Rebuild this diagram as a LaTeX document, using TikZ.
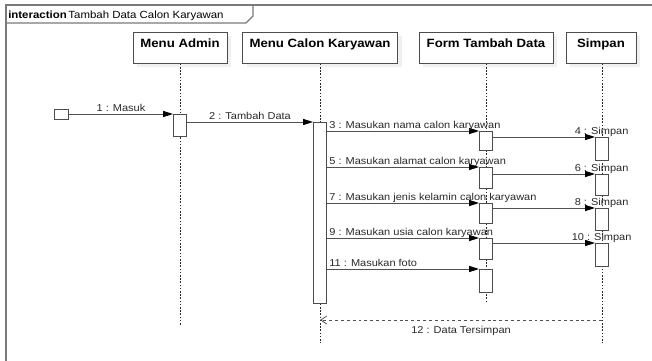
\documentclass[tikz,border=0pt]{standalone}
\usepackage{fontspec}
\setmainfont{Liberation Sans}[FakeStretch=1.1]
\usetikzlibrary{arrows.meta,shadows}
\newdimen\pxu \pxu=0.75pt
\definecolor{linegrey}{HTML}{505050}
\definecolor{labelgrey}{HTML}{2A2A2A}
\definecolor{framegrey}{HTML}{7A7A7A}
\tikzset{
  frameline/.style={draw=framegrey, line width=0.9pt},
  titletext/.style={font=\fontsize{7.8}{9}\selectfont, inner sep=0pt, text=black},
  lifehead/.style={draw=black!70, fill=white, line width=0.6pt,
    font=\fontsize{9}{10}\selectfont\bfseries, anchor=north,
    inner ysep=5.25pt, inner xsep=0pt, text height=6.3pt, text depth=6.45pt,
    general shadow={fill=black!6, shadow xshift=3pt, shadow yshift=-3pt}},
  lifeline/.style={draw=black!85, line width=0.6pt, dash pattern=on 1.2pt off 1.2pt},
  actbox/.style={draw=black!70, fill=white, line width=0.6pt, minimum width=13\pxu,
    inner sep=0pt, anchor=north},
  startbox/.style={draw=black!70, fill=white, line width=0.6pt, minimum width=14\pxu,
    minimum height=10\pxu, inner sep=0pt},
  msg/.style={draw=linegrey, line width=0.75pt,
    -{Triangle[length=7.5pt,width=4.5pt,fill=black,color=black]}},
  reply/.style={draw=linegrey, line width=0.7pt, dash pattern=on 2.2pt off 2.2pt,
    -{Straight Barb[length=4.5pt,width=6pt,line width=0.6pt]}},
  lbl/.style={font=\fontsize{7.5}{9}\selectfont, text=labelgrey, inner xsep=2\pxu, inner ysep=0pt}
}
\begin{document}
\begin{tikzpicture}[x=0.75pt, y=-0.75pt]
  \useasboundingbox (0,0) rectangle (652,360);
  \fill[white] (0,0) rectangle (652,360);

  % interaction frame with its name tab
  \draw[frameline] (6,362) -- (6,5) -- (664,5);
  \draw[frameline] (6,23) -- (246,23) -- (253,16) -- (253,5);
  \node[titletext, anchor=base west] (ttl) at (8,19)
    {\textbf{interaction}\,Tambah Data Calon Karyawan};

  % lifeline heads
  \node[lifehead, minimum width=94\pxu]  (hA) at (180,32) {Menu Admin};
  \node[lifehead, minimum width=155\pxu] (hM) at (320,32) {Menu Calon Karyawan};
  \node[lifehead, minimum width=134\pxu] (hF) at (486,32) {Form Tambah Data};
  \node[lifehead, minimum width=70\pxu]  (hS) at (601,32) {Simpan};

  % lifeline ends
  \coordinate (eA) at (180,325);
  \coordinate (eM) at (320,343);
  \coordinate (eF) at (486,302);
  \coordinate (eS) at (602,343);
  \draw[lifeline] (hA.south) -- (eA);
  \draw[lifeline] (hM.south) -- (eM);
  \draw[lifeline] (hF.south) -- (eF);
  \draw[lifeline] (hS.south -| eS) -- (eS);

  % activations
  \node[actbox, minimum height=22\pxu]  (a1) at (180,114) {};
  \node[actbox, minimum height=181\pxu] (a2) at (320,122) {};
  \node[actbox, minimum height=19\pxu]  (f1) at (486,131) {};
  \node[actbox, minimum height=23\pxu]  (s1) at (602,137) {};
  \node[actbox, minimum height=21\pxu]  (f2) at (486,167) {};
  \node[actbox, minimum height=21\pxu]  (s2) at (602,174) {};
  \node[actbox, minimum height=20\pxu]  (f3) at (486,203) {};
  \node[actbox, minimum height=22\pxu]  (s3) at (602,208) {};
  \node[actbox, minimum height=21\pxu]  (f4) at (486,238) {};
  \node[actbox, minimum height=23\pxu]  (s4) at (602,243) {};
  \node[actbox, minimum height=23\pxu]  (f5) at (486,269) {};

  % initial message source
  \node[startbox] (st) at (61.5,114) {};

  % messages
  \draw[msg] (st.east) -- node[lbl, anchor=base, yshift=2.5\pxu] {1 : Masuk} (a1.north west);
  \draw[msg] (a1.east |- a2.north) -- node[lbl, anchor=base, yshift=2.5\pxu] {2 : Tambah Data} (a2.north west);

  \draw[msg] (a2.east |- f1.north) -- node[lbl, pos=0, anchor=base west, yshift=3\pxu] {3 : Masukan nama calon karyawan} (f1.north west);
  \draw[msg] (f1.east |- s1.north) -- (s1.north west) node[lbl, anchor=base, xshift=6.5\pxu, yshift=2.5\pxu] {4 : Simpan};

  \draw[msg] (a2.east |- f2.north) -- node[lbl, pos=0, anchor=base west, yshift=3\pxu] {5 : Masukan alamat calon karyawan} (f2.north west);
  \draw[msg] (f2.east |- s2.north) -- (s2.north west) node[lbl, anchor=base, xshift=6.5\pxu, yshift=2.5\pxu] {6 : Simpan};

  \draw[msg] (a2.east |- f3.north) -- node[lbl, pos=0, anchor=base west, yshift=3\pxu] {7 : Masukan jenis kelamin calon karyawan} (f3.north west);
  \draw[msg] (f3.east |- s3.north) -- (s3.north west) node[lbl, anchor=base, xshift=6.5\pxu, yshift=2.5\pxu] {8 : Simpan};

  \draw[msg] (a2.east |- f4.north) -- node[lbl, pos=0, anchor=base west, yshift=3\pxu] {9 : Masukan usia calon karyawan} (f4.north west);
  \draw[msg] (f4.east |- s4.north) -- (s4.north west) node[lbl, anchor=base, xshift=6.5\pxu, yshift=2.5\pxu] {10 : Simpan};

  \draw[msg] (a2.east |- f5.north) -- node[lbl, pos=0, anchor=base west, yshift=3\pxu] {11 : Masukan foto} (f5.north west);

  % reply
  \coordinate (r12s) at (602,320);
  \coordinate (r12e) at (320,320);
  \draw[reply] (r12s) -- node[lbl, anchor=base, yshift=-13\pxu] {12 : Data Tersimpan} (r12e);
\end{tikzpicture}
\end{document}
